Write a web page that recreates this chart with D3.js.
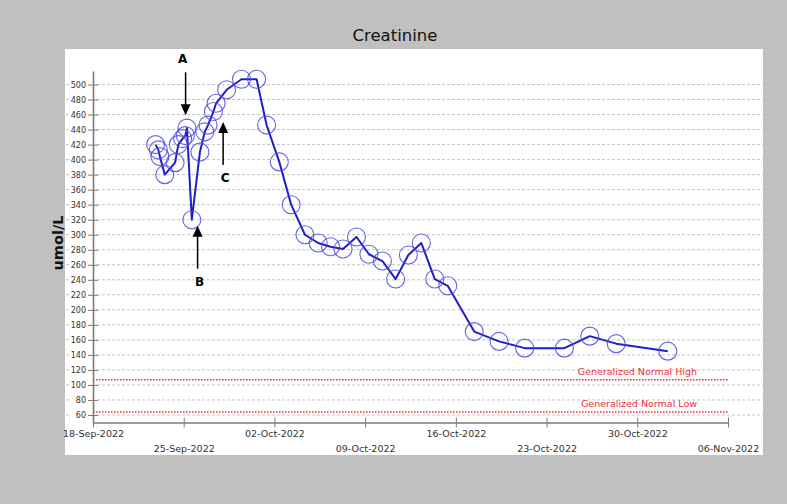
<!DOCTYPE html>
<html>
<head>
<meta charset="utf-8">
<script src="https://cdn.jsdelivr.net/npm/d3@7"></script>
<style>
  body { margin: 0; background: #c0c0c0; }
  svg { display: block; font-family: "DejaVu Sans", sans-serif; }
</style>
</head>
<body>
<svg id="chart" width="787" height="504"></svg>
<script>
// sample times and creatinine values (umol/L)
const dates = [
  "2022-09-22 20:00", "2022-09-23 01:00", "2022-09-23 04:00", "2022-09-23 13:00",
  "2022-09-24 08:00", "2022-09-24 14:00", "2022-09-24 22:00", "2022-09-25 03:00",
  "2022-09-25 06:00", "2022-09-25 15:00", "2022-09-26 06:00", "2022-09-26 15:00",
  "2022-09-26 21:00", "2022-09-27 07:00", "2022-09-27 12:00", "2022-09-28 07:30",
  "2022-09-29 11:00", "2022-09-30 15:00", "2022-10-01 09:30", "2022-10-02 09:00",
  "2022-10-03 07:00", "2022-10-04 08:30", "2022-10-05 09:00", "2022-10-06 08:00",
  "2022-10-07 07:00", "2022-10-08 08:00", "2022-10-09 07:00", "2022-10-10 08:00",
  "2022-10-11 08:30", "2022-10-12 08:00", "2022-10-13 08:00", "2022-10-14 09:00",
  "2022-10-15 09:00", "2022-10-17 10:00", "2022-10-19 08:00", "2022-10-21 07:30",
  "2022-10-24 09:00", "2022-10-26 08:00", "2022-10-28 09:00", "2022-11-01 08:30"
];
const values = [
  420, 413, 404, 380,
  396, 420, 428, 432,
  442, 320, 410, 437,
  446, 464, 475, 493,
  507, 507, 446, 397,
  340, 300, 289, 284,
  281, 297, 274, 265,
  241, 273, 289, 241,
  232, 171, 158, 149,
  149, 165, 155, 145
];

const xTicks = ["2022-09-18", "2022-09-25", "2022-10-02", "2022-10-09",
                "2022-10-16", "2022-10-23", "2022-10-30", "2022-11-06"];
const yTicks = d3.range(60, 501, 20);

const refLines = [
  { label: "Generalized Normal High", value: 107 },
  { label: "Generalized Normal Low", value: 64 }
];

// arrow tips and label letters
const notes = [
  { label: "A", date: "2022-09-25 03:30", value: 459, dir: "down" },
  { label: "B", date: "2022-09-26 01:40", value: 312, dir: "up" },
  { label: "C", date: "2022-09-28 01:00", value: 450, dir: "up" }
];

const parseTime = d3.timeParse("%Y-%m-%d %H:%M");
const parseDay = d3.timeParse("%Y-%m-%d");
const data = dates.map((d, i) => ({ date: parseTime(d), value: values[i] }));

const svg = d3.select("#chart");

// panel
svg.append("rect")
  .attr("x", 65).attr("y", 49)
  .attr("width", 698).attr("height", 406)
  .attr("fill", "#fff");

svg.append("text")
  .attr("x", 395).attr("y", 41)
  .attr("text-anchor", "middle")
  .attr("font-size", 16.5)
  .attr("fill", "#111")
  .text("Creatinine");

const x = d3.scaleTime()
  .domain([parseDay(xTicks[0]), parseDay(xTicks[xTicks.length - 1])])
  .range([93, 728]);

const y = d3.scaleLinear()
  .domain([50, 518])
  .range([422.5, 71]);

// grid
const grid = svg.append("g");
yTicks.forEach(v => {
  grid.append("line")
    .attr("x1", 97).attr("x2", 763)
    .attr("y1", y(v)).attr("y2", y(v))
    .attr("stroke", "#c4c4c4")
    .attr("stroke-dasharray", "3,2");
  grid.append("line")
    .attr("x1", 66).attr("x2", 71)
    .attr("y1", y(v)).attr("y2", y(v))
    .attr("stroke", "#c4c4c4")
    .attr("stroke-dasharray", "3,2");
});

// reference ranges
refLines.forEach(r => {
  svg.append("line")
    .attr("x1", x.range()[0]).attr("x2", x.range()[1])
    .attr("y1", y(r.value)).attr("y2", y(r.value))
    .attr("stroke", "#e8303a")
    .attr("stroke-width", 1.4)
    .attr("stroke-dasharray", "1.5,1.5");
  svg.append("text")
    .attr("x", x.range()[1] - 31)
    .attr("y", y(r.value) - 5)
    .attr("text-anchor", "end")
    .attr("font-size", 9.5)
    .attr("fill", "#e8303a")
    .text(r.label);
});

// axes
const yAxis = svg.append("g")
  .attr("transform", `translate(${x.range()[0]},0)`)
  .call(d3.axisLeft(y).tickValues(yTicks).tickSize(5).tickSizeOuter(0).tickPadding(2));
yAxis.select(".domain").attr("stroke", "#7a7a7a").attr("stroke-width", 1.6);
yAxis.selectAll(".tick line").attr("x1", -5).attr("x2", 5).attr("stroke", "#7a7a7a");
yAxis.selectAll(".tick text")
  .attr("x", -7)
  .attr("font-family", "DejaVu Sans")
  .attr("font-size", 8)
  .attr("fill", "#333");

const xAxis = svg.append("g")
  .attr("transform", `translate(0,${y(50)})`)
  .call(d3.axisBottom(x)
    .tickValues(xTicks.map(parseDay))
    .tickFormat(d3.timeFormat("%d-%b-%Y"))
    .tickSize(5).tickSizeOuter(0));
xAxis.select(".domain").attr("stroke", "#7a7a7a").attr("stroke-width", 1.6);
xAxis.selectAll(".tick line").attr("y1", -5).attr("y2", 5).attr("stroke", "#7a7a7a");
xAxis.selectAll(".tick text")
  .attr("dy", null)
  .attr("y", (d, i) => i % 2 ? 29.5 : 14.5)
  .attr("font-family", "DejaVu Sans")
  .attr("font-size", 9.5)
  .attr("fill", "#333");

svg.append("text")
  .attr("transform", "translate(63,243) rotate(-90)")
  .attr("text-anchor", "middle")
  .attr("font-size", 14.5)
  .attr("font-weight", "bold")
  .attr("fill", "#111")
  .text("umol/L");

// series
const line = d3.line()
  .x(d => x(d.date))
  .y(d => y(d.value));

svg.append("path")
  .datum(data)
  .attr("d", line)
  .attr("fill", "none")
  .attr("stroke", "#1f1fc4")
  .attr("stroke-width", 2)
  .attr("stroke-linejoin", "round");

svg.selectAll("circle.pt")
  .data(data)
  .enter()
  .append("circle")
  .attr("class", "pt")
  .attr("cx", d => x(d.date))
  .attr("cy", d => y(d.value))
  .attr("r", 9)
  .attr("fill", "none")
  .attr("stroke", "#4a4ae0")
  .attr("stroke-opacity", 0.85)
  .attr("stroke-width", 1.1);

// annotations
notes.forEach(n => {
  const tx = x(parseTime(n.date));
  const ty = y(n.value);
  const s = n.dir === "down" ? -1 : 1;
  const g = svg.append("g");
  g.append("line")
    .attr("x1", tx).attr("x2", tx)
    .attr("y1", ty + s * 10).attr("y2", ty + s * 43)
    .attr("stroke", "#000")
    .attr("stroke-width", 1.5);
  g.append("path")
    .attr("d", `M${tx},${ty} L${tx - 5},${ty + s * 11} L${tx + 5},${ty + s * 11} Z`)
    .attr("fill", "#000");
  g.append("text")
    .attr("x", tx - (n.dir === "down" ? 3 : -2))
    .attr("y", n.dir === "down" ? ty - 52 : ty + 60)
    .attr("text-anchor", "middle")
    .attr("font-size", 12)
    .attr("font-weight", "bold")
    .attr("fill", "#000")
    .text(n.label);
});
</script>
</body>
</html>
